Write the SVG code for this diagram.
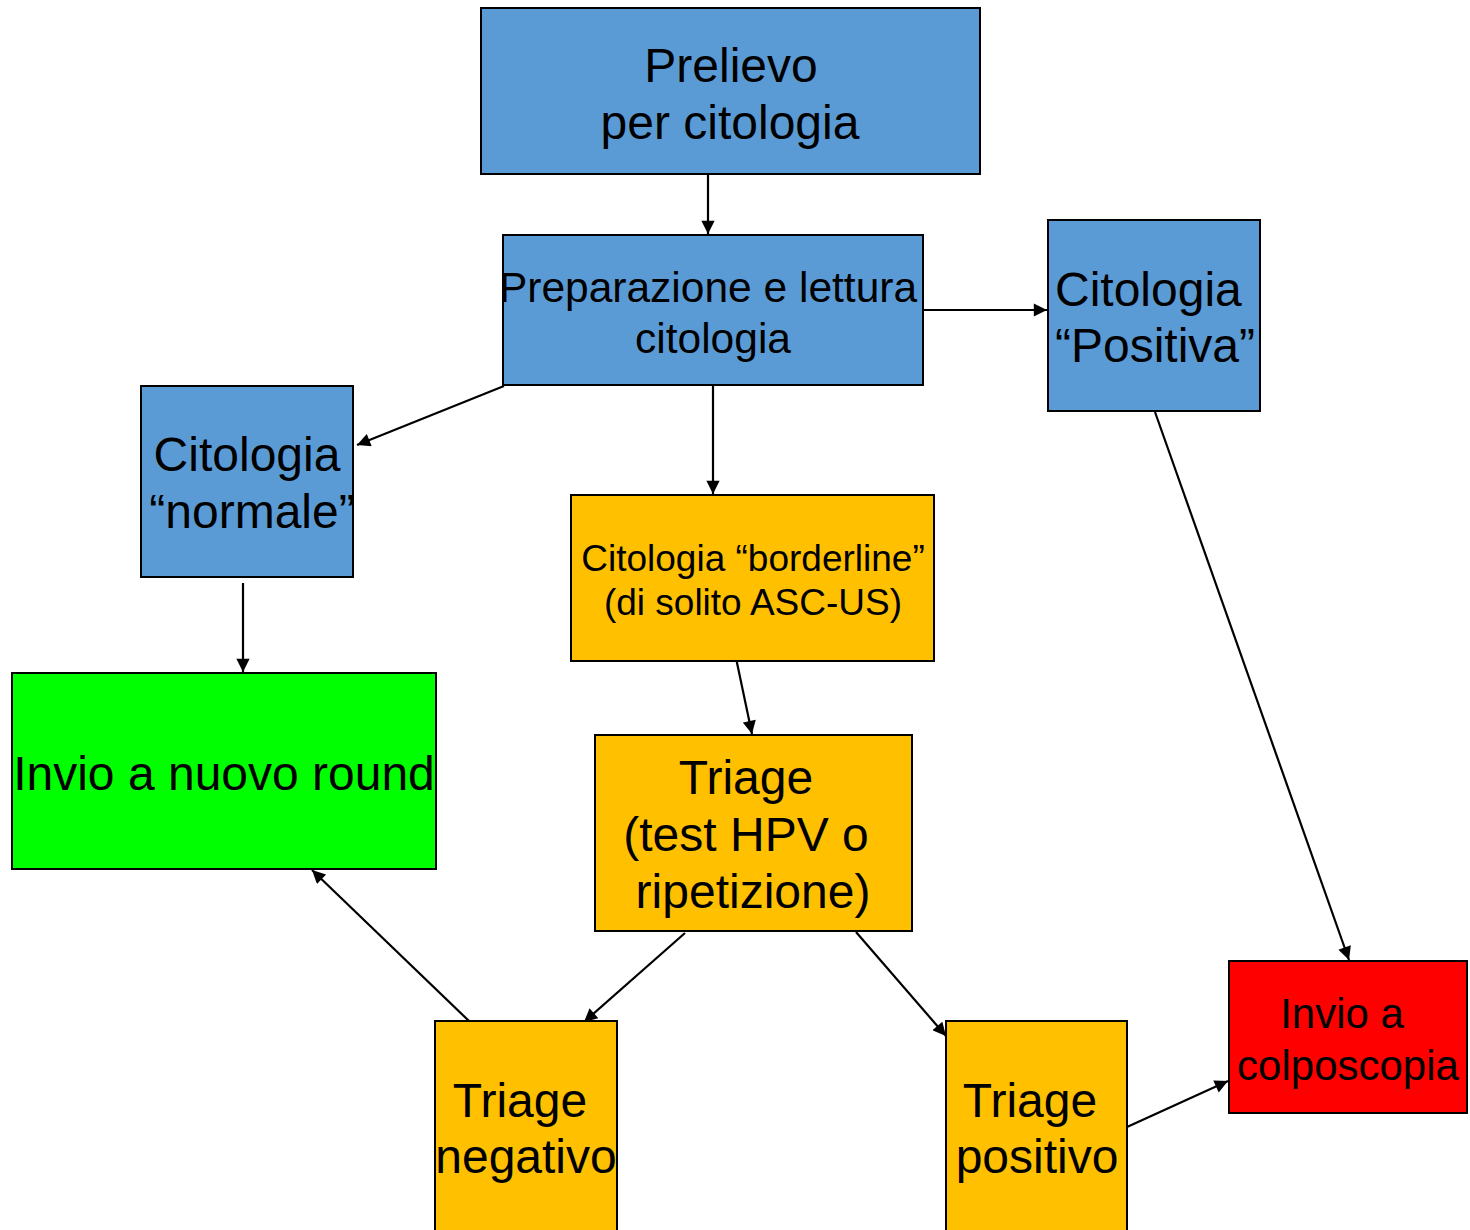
<svg xmlns="http://www.w3.org/2000/svg" width="1470" height="1230" viewBox="0 0 1470 1230">
<defs>
<style>
.box{stroke:#000;stroke-width:2}
.blue{fill:#5B9BD5}
.orange{fill:#FFC000}
.green{fill:#00FF00}
.red{fill:#FF0000}
text{font-family:"Liberation Sans",Arial,sans-serif;fill:#000;text-anchor:middle}
.t48{font-size:48px}
.t42{font-size:42px}
.t43{font-size:42.5px}
.t37{font-size:37px}
.conn line{stroke:#000;stroke-width:2.2;marker-end:url(#arr)}
</style>
<marker id="arr" viewBox="0 0 10 10" refX="10" refY="5" markerWidth="7" markerHeight="6" markerUnits="strokeWidth" orient="auto">
<path d="M0,0 L10,5 L0,10 z" fill="#000"/>
</marker>
</defs>
<rect width="1470" height="1230" fill="#fff"/>
<g id="conn" class="conn">
<line x1="708" y1="175" x2="708" y2="234"/>
<line x1="504" y1="386" x2="357" y2="445"/>
<line x1="713" y1="386" x2="713" y2="494"/>
<line x1="924" y1="310" x2="1047" y2="310"/>
<line x1="243" y1="583" x2="243" y2="672"/>
<line x1="736" y1="658" x2="752" y2="734"/>
<line x1="1155" y1="412" x2="1349" y2="960"/>
<line x1="685" y1="933" x2="584" y2="1022"/>
<line x1="856" y1="932" x2="946" y2="1036"/>
<line x1="469" y1="1021" x2="312" y2="870"/>
<line x1="1127" y1="1127" x2="1228" y2="1081"/>
</g>
<g id="n1"><rect class="box blue" x="481" y="8" width="499" height="166"/>
<text class="t48" x="731" y="82">Prelievo</text><text class="t48" x="730" y="139">per citologia</text></g>
<g id="n2"><rect class="box blue" x="503" y="235" width="420" height="150"/>
<text class="t43" x="708" y="302">Preparazione e lettura</text><text class="t43" x="713" y="353">citologia</text></g>
<g id="n3"><rect class="box blue" x="1048" y="220" width="212" height="191"/>
<text class="t48" x="1055" y="306" style="text-anchor:start">Citologia</text><text class="t48" x="1055" y="362" style="text-anchor:start">“Positiva”</text></g>
<g id="n4"><rect class="box blue" x="141" y="386" width="212" height="191"/>
<text class="t48" x="247" y="471">Citologia</text><text class="t48" x="252" y="528">“normale”</text></g>
<g id="n5"><rect class="box orange" x="571" y="495" width="363" height="166"/>
<text class="t37" x="753" y="571">Citologia “borderline”</text><text class="t37" x="753" y="615">(di solito ASC-US)</text></g>
<g id="n6"><rect class="box green" x="12" y="673" width="424" height="196"/>
<text class="t48" x="224" y="790">Invio a nuovo round</text></g>
<g id="n7"><rect class="box orange" x="595" y="735" width="317" height="196"/>
<text class="t48" x="746" y="794">Triage</text><text class="t48" x="746" y="851">(test HPV o</text><text class="t48" x="753" y="908">ripetizione)</text></g>
<g id="n8"><rect class="box orange" x="435" y="1021" width="182" height="220"/>
<text class="t48" x="520" y="1117">Triage</text><text class="t48" x="526" y="1173">negativo</text></g>
<g id="n9"><rect class="box orange" x="946" y="1021" width="181" height="220"/>
<text class="t48" x="1030" y="1117">Triage</text><text class="t48" x="1037" y="1173">positivo</text></g>
<g id="n10"><rect class="box red" x="1229" y="961" width="238" height="152"/>
<text class="t42" x="1342" y="1028">Invio a</text><text class="t42" x="1348" y="1080">colposcopia</text></g>
</svg>
